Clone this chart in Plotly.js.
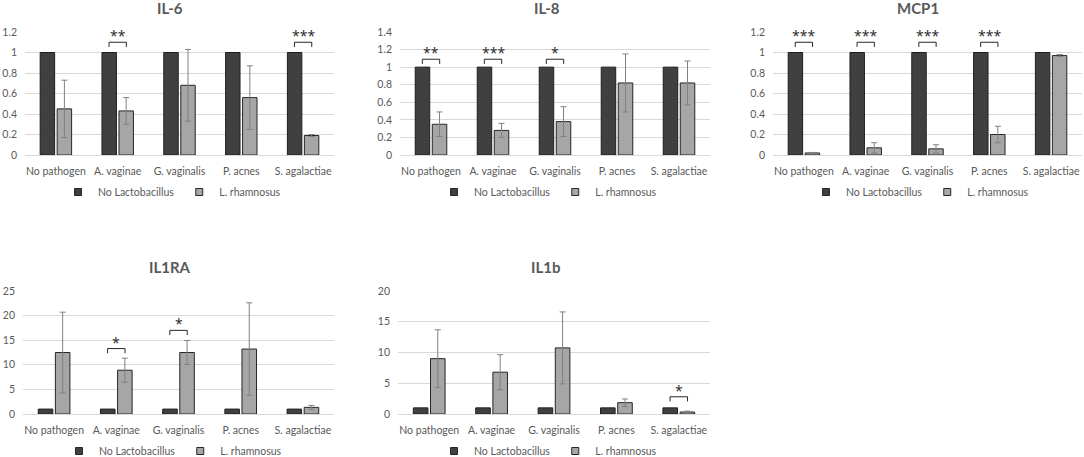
<!DOCTYPE html>
<html>
<head>
<meta charset="utf-8">
<script src="https://cdn.plot.ly/plotly-3.0.1.min.js"></script>
<style>
  html, body { margin: 0; background: #fff; overflow: hidden; }
  #plot { width: 1084px; height: 470px; }
</style>
</head>
<body>
<div id="plot"></div>
<script>
// categories + series (fold change vs no lactobacillus)
const categories = ['No pathogen', 'A. vaginae', 'G. vaginalis', 'P. acnes', 'S. agalactiae']
const seriesNames = ['No Lactobacillus', 'L. rhamnosus']

const il6Control = [1, 1, 1, 1, 1]
const il6Rham = [0.45, 0.43, 0.68, 0.56, 0.19]
const il6RhamErr = [0.28, 0.13, 0.35, 0.31, 0.01]
const il6Sig = [[1, 1.1, '**'], [4, 1.1, '***']]

const il8Control = [1, 1, 1, 1, 1]
const il8Rham = [0.35, 0.28, 0.38, 0.82, 0.82]
const il8RhamErr = [0.14, 0.08, 0.17, 0.33, 0.25]
const il8Sig = [[0, 1.09, '**'], [1, 1.09, '***'], [2, 1.09, '*']]

const mcp1Control = [1, 1, 1, 1, 1]
const mcp1Rham = [0.02, 0.07, 0.06, 0.2, 0.97]
const mcp1RhamErr = [0.005, 0.05, 0.04, 0.08, 0.01]
const mcp1Sig = [[0, 1.1, '***'], [1, 1.1, '***'], [2, 1.1, '***'], [3, 1.1, '***']]

const il1raControl = [1, 1, 1, 1, 1]
const il1raRham = [12.5, 8.9, 12.5, 13.2, 1.35]
const il1raRhamErr = [8.2, 2.45, 2.45, 9.4, 0.4]
const il1raSig = [[1, 13.3, '*'], [2, 17, '*']]

const il1bControl = [1, 1, 1, 1, 1]
const il1bRham = [9.0, 6.8, 10.75, 1.84, 0.32]
const il1bRhamErr = [4.7, 2.85, 5.85, 0.6, 0.15]
const il1bSig = [[4, 2.8, '*']]

const panels = [
  { title: 'IL-6', control: il6Control, rham: il6Rham, err: il6RhamErr, sig: il6Sig, yMax: 1.2, dtick: 0.2 },
  { title: 'IL-8', control: il8Control, rham: il8Rham, err: il8RhamErr, sig: il8Sig, yMax: 1.4, dtick: 0.2 },
  { title: 'MCP1', control: mcp1Control, rham: mcp1Rham, err: mcp1RhamErr, sig: mcp1Sig, yMax: 1.2, dtick: 0.2 },
  { title: 'IL1RA', control: il1raControl, rham: il1raRham, err: il1raRhamErr, sig: il1raSig, yMax: 25, dtick: 5 },
  { title: 'IL1b', control: il1bControl, rham: il1bRham, err: il1bRhamErr, sig: il1bSig, yMax: 20, dtick: 5 }
]

// page is made a bit taller than the window so the bottom legends are not
// clamped up by plotly; everything is placed in pixels and converted
const W = 1084
const H = 470

// plot boxes in px: [left, right, top, bottom], title centre, legend centre
const boxes = [
  { px: [25, 334, 32, 155], title: [170, 8], legend: [172, 192] },
  { px: [400, 710, 32, 155], title: [547, 8], legend: [548, 192] },
  { px: [773, 1082, 32, 155], title: [918, 8], legend: [920, 192] },
  { px: [23, 334, 291, 414], title: [170, 267], legend: [173, 451] },
  { px: [398, 710, 291, 414], title: [545, 267], legend: [548, 451] }
]
const fx = v => v / W
const fy = v => 1 - v / H

const dark = '#404040'
const light = '#a6a6a6'
const txt = '#595959'
const grid = '#d9d9d9'
const font = 'Lato, sans-serif'
const xs = categories.map((_, i) => i)

const traces = []
const layout = {
  width: W,
  height: H,
  margin: { l: 0, r: 0, t: 0, b: 0 },
  paper_bgcolor: '#fff',
  plot_bgcolor: '#fff',
  barmode: 'group',
  bargap: 0.45,
  bargroupgap: 0.15,
  font: { family: font, color: txt, size: 10 },
  shapes: [],
  annotations: []
}

panels.forEach((p, i) => {
  const n = i === 0 ? '' : String(i + 1)
  const box = boxes[i]

  traces.push({
    type: 'bar', x: xs, y: p.control, name: seriesNames[0], showlegend: false,
    xaxis: 'x' + n, yaxis: 'y' + n,
    marker: { color: dark, line: { color: '#1e1e1e', width: 1 } },
    hoverinfo: 'y'
  })
  traces.push({
    type: 'bar', x: xs, y: p.rham, name: seriesNames[1], showlegend: false,
    xaxis: 'x' + n, yaxis: 'y' + n,
    marker: { color: light, line: { color: '#262626', width: 1 } },
    error_y: { type: 'data', array: p.err, visible: true, color: '#808080', thickness: 1, width: 3 },
    hoverinfo: 'y'
  })
  // legend entries only, small squares like the excel legend
  ;[dark, light].forEach((c, k) => {
    traces.push({
      type: 'scatter', mode: 'markers', x: [null], y: [null], name: seriesNames[k],
      xaxis: 'x' + n, yaxis: 'y' + n, legend: 'legend' + n,
      marker: { symbol: 'square', size: 7, color: c, line: { color: '#262626', width: 1 } }
    })
  })

  layout['xaxis' + n] = {
    domain: [fx(box.px[0]), fx(box.px[1])], anchor: 'y' + n, range: [-0.5, 4.5],
    tickvals: xs, ticktext: categories, ticks: '', showgrid: false,
    zeroline: false, showline: false, fixedrange: true, ticklabelstandoff: 8,
    tickfont: { family: font, size: 10.5, color: txt }
  }
  layout['yaxis' + n] = {
    domain: [fy(box.px[3]), fy(box.px[2])], anchor: 'x' + n, range: [0, p.yMax], dtick: p.dtick,
    ticks: '', showgrid: true, gridcolor: grid, gridwidth: 1,
    zeroline: true, zerolinecolor: grid, zerolinewidth: 1,
    showline: false, fixedrange: true, ticklabelstandoff: 7,
    tickfont: { family: font, size: 10.5, color: txt }
  }
  layout['legend' + n] = {
    orientation: 'h', x: fx(box.legend[0]), y: fy(box.legend[1]),
    xanchor: 'center', yanchor: 'middle', xref: 'paper', yref: 'paper',
    font: { family: font, size: 10.5, color: txt },
    itemwidth: 30, bgcolor: 'rgba(0,0,0,0)', traceorder: 'normal'
  }

  layout.annotations.push({
    text: '<b>' + p.title + '</b>', xref: 'paper', yref: 'paper',
    x: fx(box.title[0]), y: fy(box.title[1]), xanchor: 'center', yanchor: 'middle',
    showarrow: false, font: { family: font, size: 15, color: txt }
  })

  // significance brackets from dark bar to light bar
  const drop = p.yMax * 0.038
  p.sig.forEach(s => {
    const x0 = s[0] - 0.14
    const x1 = s[0] + 0.14
    layout.shapes.push({
      type: 'path', xref: 'x' + n, yref: 'y' + n,
      path: `M ${x0},${s[1] - drop} L ${x0},${s[1]} L ${x1},${s[1]} L ${x1},${s[1] - drop}`,
      line: { color: '#262626', width: 1 }
    })
    layout.annotations.push({
      text: s[2], xref: 'x' + n, yref: 'y' + n, x: s[0], y: s[1],
      xanchor: 'center', yanchor: 'bottom', yshift: -5, showarrow: false,
      font: { family: 'Open Sans, sans-serif', size: 14, color: '#262626' }
    })
  })
})

Plotly.newPlot('plot', traces, layout, { displayModeBar: false, staticPlot: true })
</script>
</body>
</html>
